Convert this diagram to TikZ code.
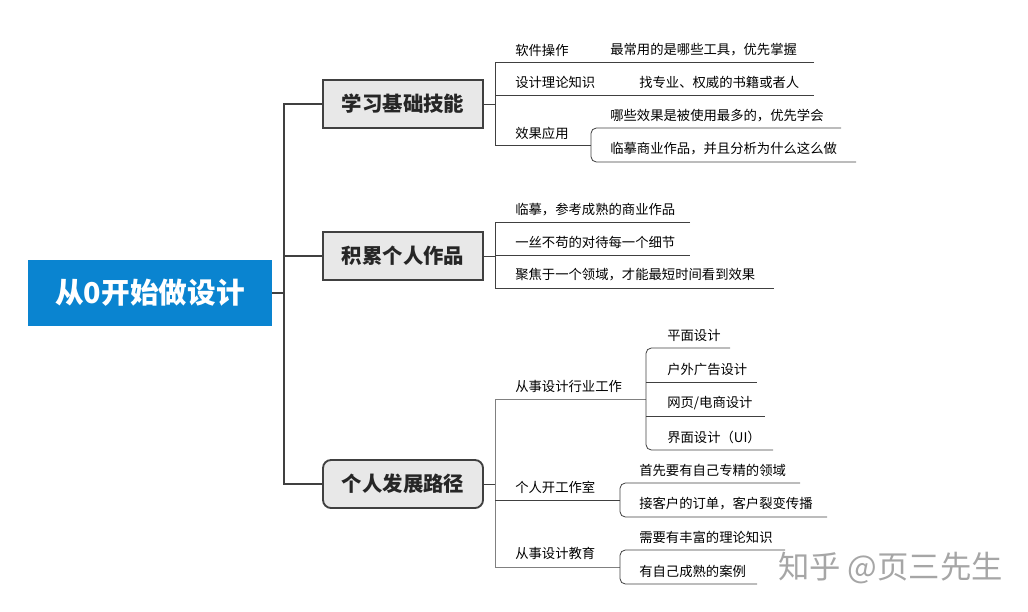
\documentclass[tikz,border=0pt]{standalone}
\usepackage{fontspec}
\setmainfont{Noto Sans CJK SC}
\definecolor{rootblue}{HTML}{0A84D0}
\definecolor{boxgray}{HTML}{E8E8E8}
\definecolor{edgegray}{HTML}{404040}
\tikzset{
  rootbox/.style={fill=rootblue,text=white,font=\bfseries\fontsize{21.5}{24}\selectfont,minimum width=183pt,minimum height=49pt,inner sep=0pt},
  topicbox/.style={draw=edgegray,line width=1.4pt,fill=boxgray,text=black!85,font=\bfseries\fontsize{15.3}{18}\selectfont,minimum width=120pt,minimum height=36pt,inner sep=0pt},
  leaf/.style={anchor=west,font=\fontsize{10}{12}\selectfont,inner sep=0pt},
  trunk/.style={draw=edgegray,line width=1.2pt},
  twig/.style={draw=edgegray,line width=0.6pt,rounded corners=4pt}
}
\begin{document}
\begin{tikzpicture}[x=0.75pt,y=-0.75pt]
\useasboundingbox (0,0) rectangle (1028,611);
\node[rootbox] (root) at (150,293) {从0开始做设计};
\node[topicbox] (basic) at (403,104) {学习基础技能};
\node[topicbox] (works) at (403,256) {积累个人作品};
\node[topicbox,rounded corners=6pt] (path) at (403,484) {个人发展路径};
% trunk
\coordinate (tk) at (284,293);
\draw[trunk] (root.east) -- (tk);
\draw[trunk] (basic.west) -- (284,104) -- (284,484) -- (path.west);
\draw[trunk] (works.west) -- (284,256);
% basic skills
\node[leaf] (b1) at (515,50) {软件操作};
\node[leaf] (b1a) at (610,50) {最常用的是哪些工具，优先掌握};
\node[leaf] (b2) at (515,82) {设计理论知识};
\node[leaf] (b2a) at (639,82) {找专业、权威的书籍或者人};
\node[leaf] (b3) at (515,133) {效果应用};
\node[leaf] (b3a) at (610,116) {哪些效果是被使用最多的，优先学会};
\node[leaf] (b3b) at (610,149) {临摹商业作品，并且分析为什么这么做};
\draw[twig] (basic.east) -- (495,104);
\draw[twig,rounded corners=0pt] (814,62) -- (495,62) -- (495,145) -- (591,145);
\draw[twig,rounded corners=0pt] (495,95) -- (814,95);
\draw[twig] (841,128) -- (591,128) -- (591,162) -- (856,162);
% works
\node[leaf] (w1) at (515,210) {临摹，参考成熟的商业作品};
\node[leaf] (w2) at (515,242) {一丝不苟的对待每一个细节};
\node[leaf] (w3) at (515,275) {聚焦于一个领域，才能最短时间看到效果};
\draw[twig] (works.east) -- (495,256);
\draw[twig,rounded corners=0pt] (690,222) -- (495,222) -- (495,288) -- (774,288);
\draw[twig] (495,255) -- (690,255);
% career
\node[leaf] (p1) at (515,386) {从事设计行业工作};
\node[leaf] (p1a) at (667,335) {平面设计};
\node[leaf] (p1b) at (667,369) {户外广告设计};
\node[leaf] (p1c) at (667,403) {网页/电商设计};
\node[leaf] (p1d) at (667,437) {界面设计（UI）};
\node[leaf] (p2) at (515,487) {个人开工作室};
\node[leaf] (p2a) at (639,470) {首先要有自己专精的领域};
\node[leaf] (p2b) at (639,504) {接客户的订单，客户裂变传播};
\node[leaf] (p3) at (515,553) {从事设计教育};
\node[leaf] (p3a) at (639,537) {需要有丰富的理论知识};
\node[leaf] (p3b) at (639,571) {有自己成熟的案例};
\draw[twig] (path.east) -- (495,484);
\draw[twig,draw=gray,rounded corners=0pt] (646,399) -- (495,399) -- (495,567) -- (620,567);
\draw[twig] (495,500) -- (620,500);
\draw[twig] (730,348) -- (646,348) -- (646,450) -- (773,450);
\draw[twig] (646,382) -- (757,382);
\draw[twig] (646,416) -- (765,416);
\draw[twig] (800,483) -- (620,483) -- (620,517) -- (827,517);
\draw[twig] (785,550) -- (620,550) -- (620,584) -- (757,584);
% watermark
\node[anchor=west,text=black!35,font=\fontsize{23.5}{26}\selectfont,inner sep=0pt] (mark) at (778,568) {知乎 @页三先生};
\end{tikzpicture}
\end{document}
